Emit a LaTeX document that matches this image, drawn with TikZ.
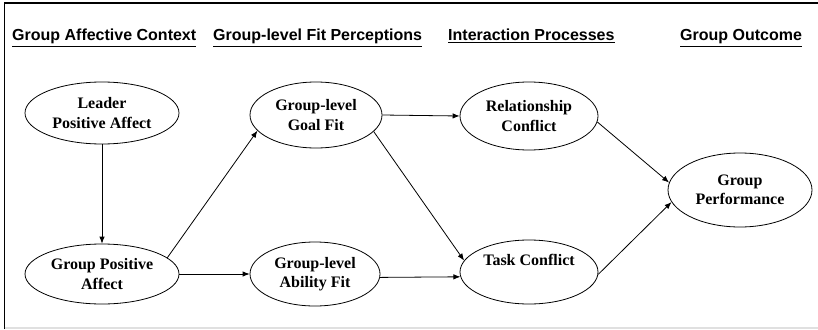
\documentclass[tikz,border=0pt]{standalone}
\usepackage{fontspec}
\setmainfont{Liberation Serif}
\setsansfont{Liberation Sans}
\usetikzlibrary{arrows.meta,shapes.geometric}
\tikzset{
  construct/.style={draw, ellipse, line width=0.8pt, inner sep=0pt, align=center,
    font=\fontsize{16}{19.5}\selectfont\bfseries},
  heading/.style={anchor=base west, inner sep=0pt, font=\fontsize{16}{19}\selectfont\sffamily\bfseries},
  link/.style={-{Latex[length=7pt,width=5.5pt]}, line width=0.8pt}
}
\begin{document}
\begin{tikzpicture}[x=1pt,y=-1pt]
\useasboundingbox (0,0) rectangle (818,329);
\draw[line width=1.2pt] (4.5,329) -- (4.5,3) -- (818,3);
\draw[line width=1.2pt, black!12] (4.5,328) -- (818,328);
% column headings
\node[heading] (h1) at (12,41) {\underline{Group Affective Context}};
\node[heading] (h2) at (213,41) {\underline{Group-level Fit Perceptions}};
\node[heading] (h3) at (448,41) {\underline{Interaction Processes}};
\node[heading] (h4) at (680,41) {\underline{Group Outcome}};
% constructs
\node[construct, minimum width=154pt, minimum height=62pt] (lpa) at (102,113) {Leader\\Positive Affect};
\node[construct, minimum width=154pt, minimum height=60pt] (gpa) at (102,274) {Group Positive\\Affect};
\node[construct, minimum width=132pt, minimum height=66pt] (goal) at (316,115) {Group-level\\Goal Fit};
\node[construct, minimum width=130pt, minimum height=64pt] (ability) at (315,274) {Group-level\\Ability Fit};
\node[construct, minimum width=138pt, minimum height=68pt] (rel) at (529,116) {Relationship\\Conflict};
\node[construct, minimum width=138pt, minimum height=64pt] (task) at (529,272) {Task Conflict\\[4pt]};
\node[construct, minimum width=144pt, minimum height=74pt] (perf) at (740,190) {Group\\Performance};
% paths
\draw[link] (lpa) -- (gpa);
\draw[link] (gpa.14) -- (goal.195);
\draw[link] (gpa.east) -- (ability.west);
\draw[link] (goal.east) -- (rel.west);
\draw[link] (goal.-16) -- (task.170);
\draw[link] (ability.-3) -- (task.184);
\draw[link] (rel.-5) -- (perf.174);
\draw[link] (task.-2) -- (perf.190);
\end{tikzpicture}
\end{document}
